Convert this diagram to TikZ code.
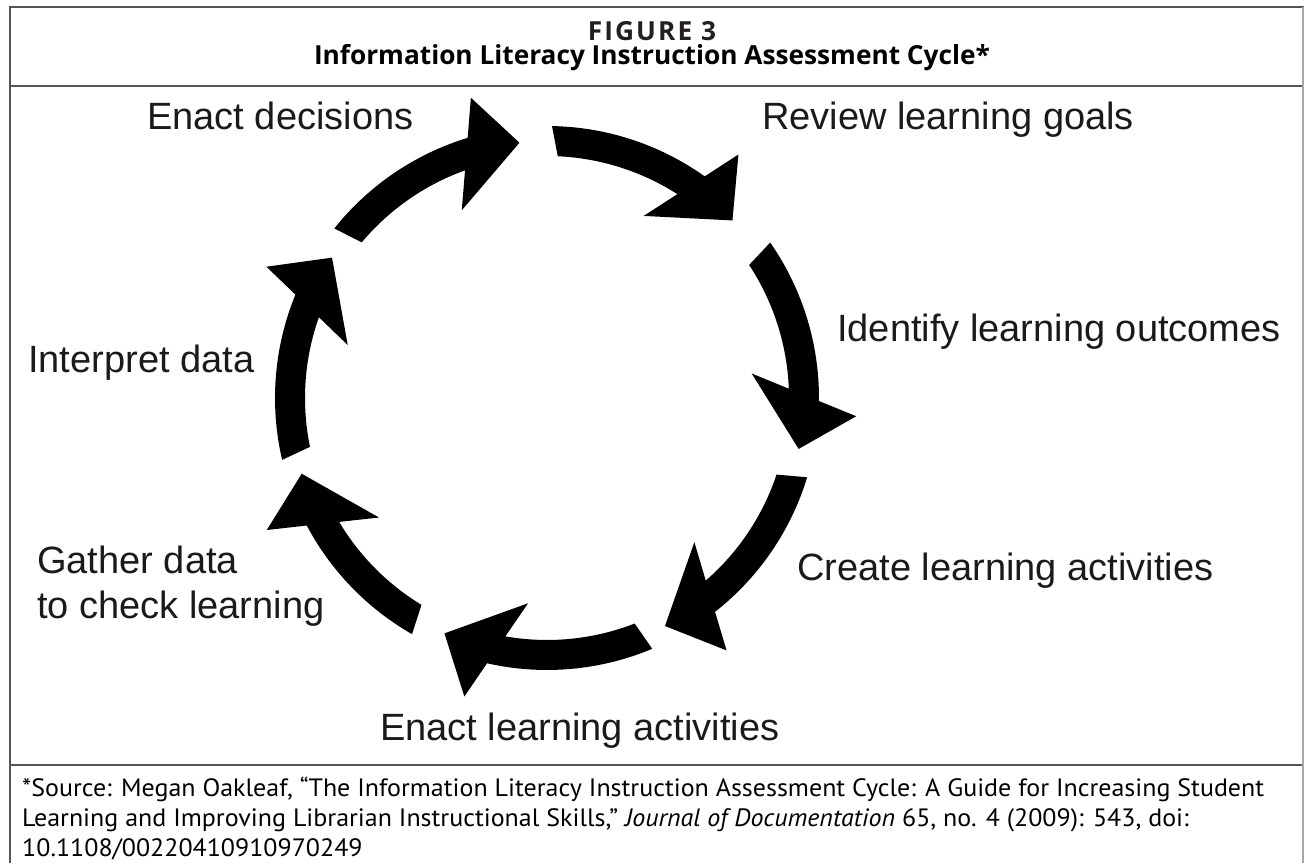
\documentclass[tikz,border=0pt]{standalone}
\usepackage{fontspec}
\setmainfont{Liberation Sans}
\newfontfamily\headfont{Open Sans}
\newfontfamily\notefont{PT Sans}

\definecolor{framegray}{HTML}{555555}
\definecolor{edgegray}{HTML}{A8A8A8}
\definecolor{headink}{HTML}{231F20}
\definecolor{labelink}{HTML}{1A1A1A}

\newsavebox\titlebox
\newsavebox\srclineA
\newsavebox\srclineB
\newsavebox\srclineC

% one block arrow of the cycle: #1 = angle where the head starts, #2 = angular length of the shaft
\newcommand{\blockarc}[2]{%
  \begin{scope}[shift={(547,465)}, rotate=#1]
    \fill[cyclearrow] ({#2+0.75}:272) arc[start angle={#2+0.75}, end angle=-1.34, radius=272]
      -- (309,-22) -- (251,-54) -- (205,22) -- (1.5:242)
      arc[start angle=1.5, end angle={#2-0.75}, radius=242] -- cycle;
  \end{scope}}

\begin{document}
% text boxes measured once, then scaled to their widths
\sbox\titlebox{\headfont\bfseries\fontsize{20}{24}\selectfont Information Literacy Instruction Assessment Cycle*}
\sbox\srclineA{\notefont\fontsize{22}{26}\selectfont *Source: Megan Oakleaf, “The Information Literacy Instruction Assessment Cycle: A Guide for Increasing Student}
\sbox\srclineB{\notefont\fontsize{22}{26}\selectfont Learning and Improving Librarian Instructional Skills,” \textit{Journal of Documentation} 65, no. 4 (2009): 543, doi:}
\sbox\srclineC{\notefont\fontsize{22}{26}\selectfont 10.1108/00220410910970249}
\pgfmathsetmacro\titlescale{676pt/\the\wd\titlebox}
\pgfmathsetmacro\notescale{1242pt/\the\wd\srclineA}
\begin{tikzpicture}[x=1pt, y=1pt,
  frameline/.style={draw=framegray, line width=2pt},
  cyclearrow/.style={fill=black},
  cyclelabel/.style={anchor=base west, inner sep=0pt, text=labelink, font=\fontsize{38}{44}\selectfont},
  headtext/.style={anchor=base, inner sep=0pt, text=headink},
  notetext/.style={anchor=base west, inner sep=0pt, text=headink}]

\useasboundingbox (0,0) rectangle (1304,863);

% frame of the figure
\draw[frameline] (9.5,0) -- (9.5,856) -- (1304,856);
\draw[frameline] (9.5,777) -- (1302,777);
\draw[frameline] (9.5,98) -- (1302,98);
\draw[edgegray, line width=1.5pt] (1303,0) -- (1303,856);

% heading
\node[headtext] (figno) at (652,822) {\scalebox{\titlescale}{\headfont\bfseries\fontsize{20}{24}\selectfont\addfontfeature{LetterSpace=8}FIGURE 3}};
\node[headtext] (title) at (652,798) {\scalebox{\titlescale}{\usebox\titlebox}};

% the cycle of arrows
\blockarc{55.9}{32.3}
\blockarc{0.7}{33.4}
\blockarc{-50.5}{32.8}
\blockarc{-101.4}{33.4}
\blockarc{-150.7}{30.2}
\blockarc{159.0}{33.4}
\blockarc{108.3}{32.4}

% stage labels
\node[cyclelabel] (review) at (762,733) {Review learning goals};
\node[cyclelabel] (identify) at (837,521) {Identify learning outcomes};
\node[cyclelabel] (create) at (797,282) {Create learning activities};
\node[cyclelabel] (enactla) at (380,123) {Enact learning activities};
\node[cyclelabel] (gather) at (37,289) {Gather data};
\node[cyclelabel] (check) at (37,245) {to check learning};
\node[cyclelabel] (interpret) at (28,490) {Interpret data};
\node[cyclelabel] (enactdec) at (147,733) {Enact decisions};

% source note
\node[notetext] (noteA) at (22,67) {\scalebox{\notescale}[1.14]{\usebox\srclineA}};
\node[notetext] (noteB) at (22,37) {\scalebox{\notescale}[1.14]{\usebox\srclineB}};
\node[notetext] (noteC) at (22,7) {\scalebox{\notescale}[1.14]{\usebox\srclineC}};
\end{tikzpicture}
\end{document}
